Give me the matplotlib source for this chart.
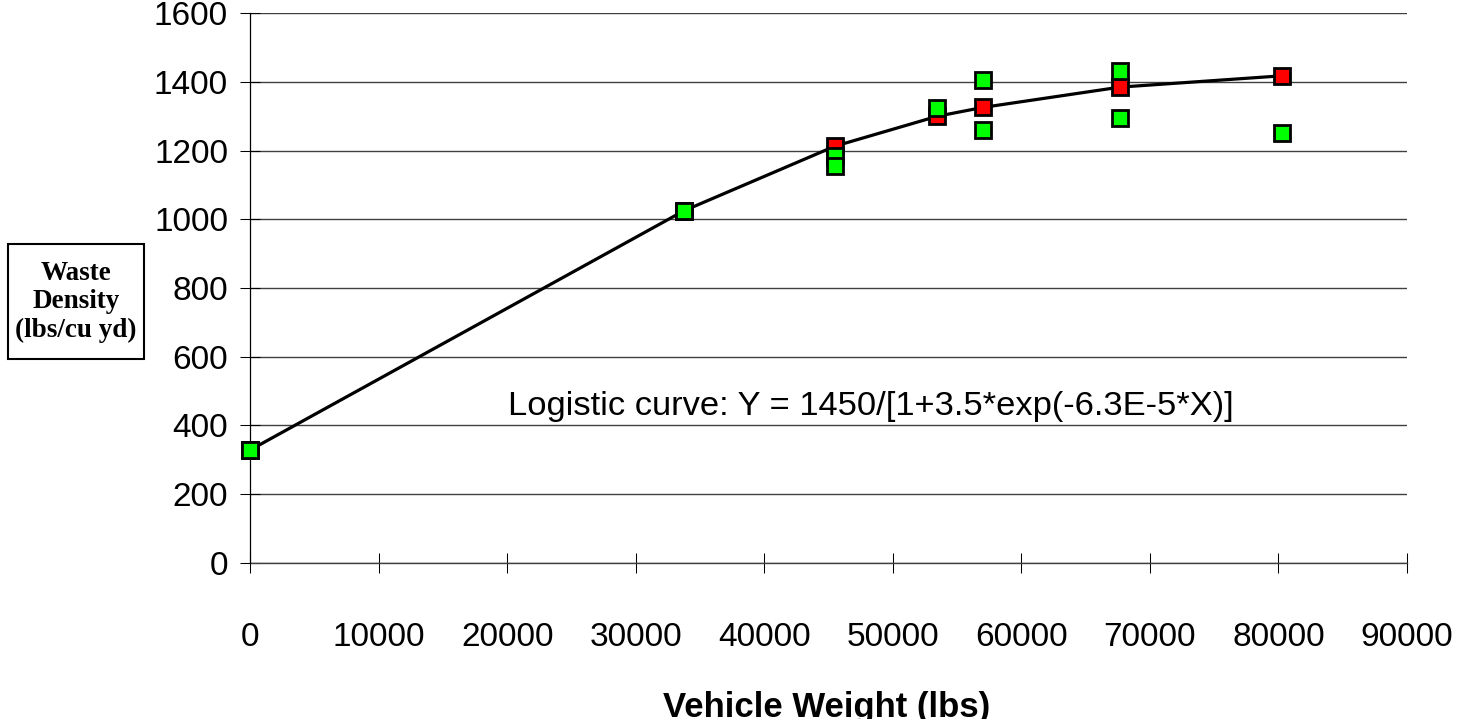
import matplotlib
matplotlib.use("Agg")
from matplotlib import pyplot as plt
from matplotlib.patches import Rectangle

# vehicle weight (lbs) of each load group
weights = [0, 33760, 45500, 53450, 57030, 67680, 80290]
# logistic fit values at those weights (red markers, joined by the line)
fitted = [328, 1025, 1213, 1300, 1326, 1385, 1418]

# measured waste densities (green markers)
obs_x = [0, 33760, 45500, 45500, 53450, 57030, 57030, 67680, 67680, 80290]
obs_y = [328, 1025, 1184, 1155, 1323, 1405, 1260, 1431, 1295, 1251]

x_ticks = list(range(0, 90001, 10000))
y_ticks = list(range(0, 1601, 200))

plt.rcParams['font.family'] = ['Liberation Sans', 'DejaVu Sans']

fig = plt.figure(figsize=(14.64, 7.19), dpi=100)
ax = fig.add_axes([0.1708, 0.2174, 0.961 - 0.1708, 0.9815 - 0.2174])

ax.set_axisbelow(True)
ax.yaxis.grid(True, color='#404040', linewidth=1.0)
ax.axhline(0, color='#404040', linewidth=1.0, clip_on=False, zorder=1)
ax.plot(weights, fitted, color='black', linewidth=2.3, zorder=3, clip_on=False)
ax.plot(weights, fitted, linestyle='none', marker='s', markersize=11.7,
        markerfacecolor='#ff0000', markeredgecolor='black', markeredgewidth=2,
        zorder=4, clip_on=False)
ax.plot(obs_x, obs_y, linestyle='none', marker='s', markersize=11.7,
        markerfacecolor='#00ff00', markeredgecolor='black', markeredgewidth=2,
        zorder=5, clip_on=False)

ax.set_xlim(0, 90000)
ax.set_ylim(0, 1600)
ax.set_xticks(x_ticks)
ax.set_yticks(y_ticks)
ax.set_xticklabels([str(v) for v in x_ticks])
ax.set_yticklabels([str(v) for v in y_ticks])
ax.tick_params(axis='x', direction='inout', length=15, width=0.75, pad=35, labelsize=24)
ax.tick_params(axis='y', direction='inout', length=14.4, width=0.75, pad=8.6, labelsize=24)

for s in ['top', 'right', 'bottom']:
    ax.spines[s].set_visible(False)
ax.spines['left'].set_linewidth(0.9)

# equation label, cut off at the bottom just like the original
txt = ax.text(20080, 430, 'Logistic curve: Y = 1450/[1+3.5*exp(-6.3E-5*X)]',
              fontsize=24.8, va='baseline', ha='left', zorder=2)
clip = Rectangle((0, 427), 90000, 1000, transform=ax.transData)
txt.set_clip_path(clip)

# boxed y label
box = Rectangle((8.3 / 1464, 1 - 359 / 719), 135.7 / 1464, 115 / 719,
                transform=fig.transFigure, facecolor='white',
                edgecolor='black', linewidth=1.5)
fig.patches.append(box)
fig.text(76 / 1464, 1 - 302 / 719, 'Waste\nDensity\n(lbs/cu yd)',
         family=['Liberation Serif', 'DejaVu Serif'], fontweight='bold',
         fontsize=19.5, ha='center', va='center', linespacing=1.2)

fig.text(827 / 1464, 1 - 716.5 / 719, 'Vehicle Weight (lbs)', fontsize=25,
         fontweight='bold', ha='center', va='baseline')

fig.savefig('out.png', dpi=100)
